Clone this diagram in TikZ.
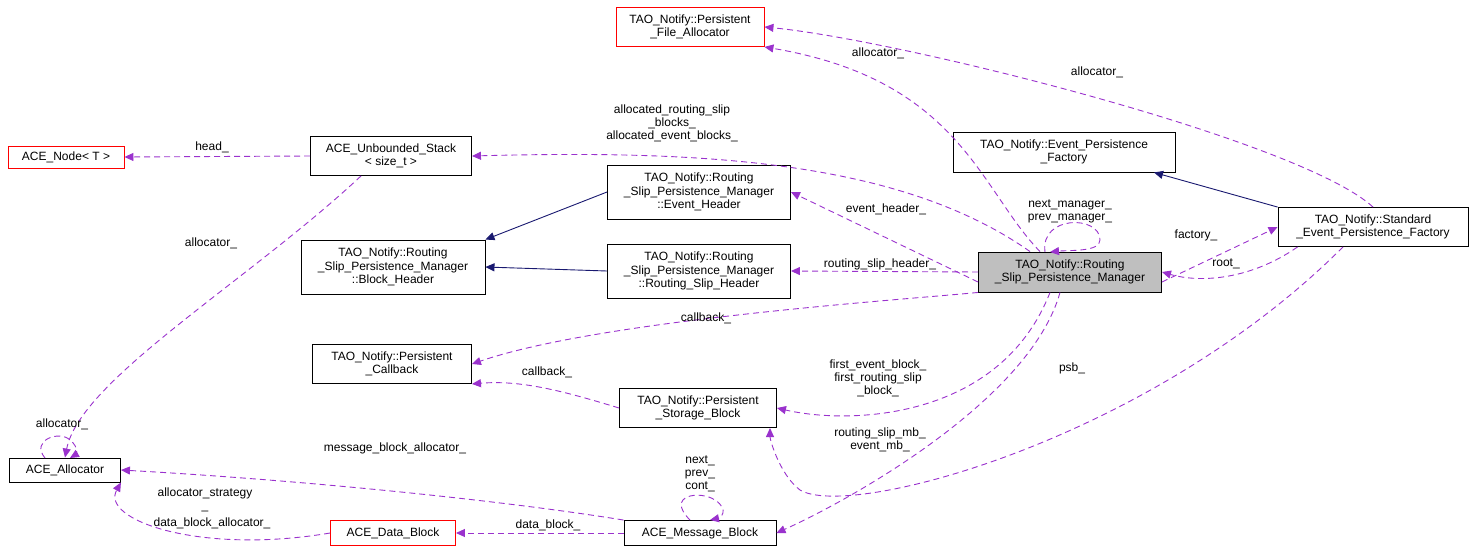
\documentclass[tikz,border=0pt]{standalone}
\usepackage{fontspec}
\setmainfont{Liberation Sans}
\usetikzlibrary{arrows.meta}
\definecolor{pcol}{RGB}{154,50,205}
\definecolor{ncol}{RGB}{25,25,112}
\begin{document}
\begin{tikzpicture}[x=1pt,y=-1pt,line width=0.9pt,
 box/.style={draw=black,fill=white,inner sep=2pt,align=center,font=\fontsize{12}{13.5}\selectfont,anchor=center,line width=0.9pt},
 red/.style={box,draw=red},
 gray/.style={box,fill=black!25},
 use/.style={draw=pcol,dash pattern=on 6pt off 4pt,-{Triangle[length=9pt,width=8pt,fill=pcol]}},
 inh/.style={draw=ncol,-{Triangle[length=9pt,width=8pt,fill=ncol]}},
 lab/.style={font=\fontsize{12}{13}\selectfont,align=center,text=black}]
\useasboundingbox (0,0) rectangle (1475,555);
\node[red,minimum width=148pt,minimum height=39pt] (pfa) at (690,27) {TAO\_Notify::Persistent\\\_File\_Allocator};
\node[box,minimum width=161pt,minimum height=39pt] (stk) at (391,156) {ACE\_Unbounded\_Stack\\< size\_t >};
\node[red,minimum width=116pt,minimum height=22pt] (anode) at (66,157) {ACE\_Node< T >};
\node[box,minimum width=222pt,minimum height=40pt] (epf) at (1064,152) {TAO\_Notify::Event\_Persistence\\\_Factory};
\node[box,minimum width=183pt,minimum height=54pt] (eh) at (699,192) {TAO\_Notify::Routing\\\_Slip\_Persistence\_Manager\\::Event\_Header};
\node[box,minimum width=184pt,minimum height=54pt] (bh) at (393,267) {TAO\_Notify::Routing\\\_Slip\_Persistence\_Manager\\::Block\_Header};
\node[box,minimum width=183pt,minimum height=54pt] (rsh) at (699,271) {TAO\_Notify::Routing\\\_Slip\_Persistence\_Manager\\::Routing\_Slip\_Header};
\node[gray,minimum width=183pt,minimum height=40pt] (rspm) at (1070,272) {TAO\_Notify::Routing\\\_Slip\_Persistence\_Manager};
\node[box,minimum width=190pt,minimum height=39pt] (sepf) at (1373,227) {TAO\_Notify::Standard\\\_Event\_Persistence\_Factory};
\node[box,minimum width=159pt,minimum height=39pt] (pcb) at (392,364) {TAO\_Notify::Persistent\\\_Callback};
\node[box,minimum width=157pt,minimum height=39pt] (psb) at (698,408) {TAO\_Notify::Persistent\\\_Storage\_Block};
\node[box,minimum width=111pt,minimum height=24pt] (alloc) at (65,470) {ACE\_Allocator};
\node[red,minimum width=125pt,minimum height=25pt] (db) at (393,533) {ACE\_Data\_Block};
\node[box,minimum width=152pt,minimum height=25pt] (mb) at (700,533) {ACE\_Message\_Block};

\draw[inh] (eh.west) -- (bh.north east);
\draw[inh] (rsh.west) -- (bh.east);
\draw[inh] (sepf.north west) -- ([xshift=90pt]epf.south);
\draw[use] ([xshift=-30pt]rspm.north) .. controls (980,190) and (960,80) .. (pfa.south east);
\draw[use] (sepf.north) .. controls (1300,140) and (900,40) .. (pfa.east);
\draw[use] ([xshift=-40pt]rspm.north) .. controls (900,160) and (700,150) .. (stk.east);
\draw[use] (stk.west) -- (anode.east);
\draw[use] ([xshift=-30pt]stk.south) .. controls (250,280) and (80,380) .. (alloc.north);
\draw[use] ([yshift=-10pt]rspm.west) -- (eh.east);
\draw[use] (rspm.west) -- (rsh.east);
\draw[use] (1045,252) .. controls (1040,215) and (1100,215) .. (1100,240) .. controls (1100,252) and (1070,250) .. (1050,252);
\draw[use] ([yshift=-10pt]rspm.east) -- (sepf.west);
\draw[use] ([xshift=20pt]sepf.south west) .. controls (1250,280) and (1200,283) .. (rspm.east);
\draw[use] (rspm.south west) .. controls (900,300) and (600,320) .. (pcb.east);
\draw[use] (psb.west) .. controls (560,390) and (520,380) .. (pcb.south east);
\draw[use] ([xshift=-20pt]rspm.south) .. controls (1000,420) and (850,425) .. (psb.east);
\draw[use] ([xshift=-10pt]rspm.south) .. controls (1030,400) and (850,500) .. (mb.east);
\draw[use] ([xshift=-30pt]sepf.south) .. controls (1150,440) and (850,520) .. (800,490) .. controls (780,475) and (770,440) .. (770,428);
\draw[use] (45,458) .. controls (30,440) and (60,430) .. (70,440) .. controls (80,448) and (75,455) .. (70,458);
\draw[use] (mb.north west) .. controls (500,500) and (300,480) .. (alloc.east);
\draw[use] (db.west) .. controls (200,555) and (100,520) .. (alloc.south east);
\draw[use] (mb.west) -- (db.east);
\draw[use] (690,520) .. controls (665,495) and (700,490) .. (715,500) .. controls (730,510) and (720,518) .. (710,520);

\node[lab] at (878,53) {allocator\_};
\node[lab] at (1097,72) {allocator\_};
\node[lab] at (672,123) {allocated\_routing\_slip\\\_blocks\_\\allocated\_event\_blocks\_};
\node[lab] at (212,147) {head\_};
\node[lab] at (211,243) {allocator\_};
\node[lab] at (886,209) {event\_header\_};
\node[lab] at (880,264) {routing\_slip\_header\_};
\node[lab] at (1070,211) {next\_manager\_\\prev\_manager\_};
\node[lab] at (1196,235) {factory\_};
\node[lab] at (1226,264) {root\_};
\node[lab] at (706,318) {callback\_};
\node[lab] at (547,372) {callback\_};
\node[lab] at (878,378) {first\_event\_block\_\\first\_routing\_slip\\\_block\_};
\node[lab] at (880,440) {routing\_slip\_mb\_\\event\_mb\_};
\node[lab] at (1072,368) {psb\_};
\node[lab] at (62,424) {allocator\_};
\node[lab] at (395,448) {message\_block\_allocator\_};
\node[lab] at (205,500) {allocator\_strategy\\\_};
\node[lab] at (212,523) {data\_block\_allocator\_};
\node[lab] at (548,525) {data\_block\_};
\node[lab] at (700,474) {next\_\\prev\_\\cont\_};
\end{tikzpicture}
\end{document}
